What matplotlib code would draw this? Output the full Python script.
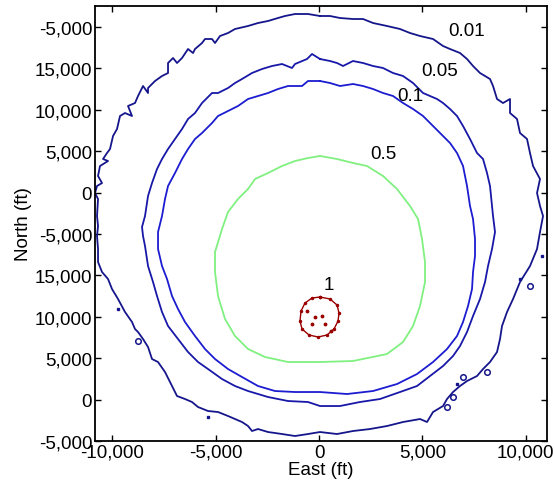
import matplotlib
matplotlib.use("Agg")
from matplotlib import pyplot as plt

plt.rcParams['font.family'] = ['Liberation Sans', 'DejaVu Sans']

# contour lines (East ft, North ft)
c001_x = [48, -532, -1162, -1646, -1984, -2468, -2952, -3436, -4066, -4404, -4792, -5034, -5179,
          -5518, -5663, -6002, -6098, -6340, -6631, -6873, -7066, -7308, -7308, -7599, -7938,
          -8276, -8276, -8518, -8760, -8906, -9244, -9051, -9390, -9632, -9777, -9970, -10116,
          -10261, -10454, -10212, -10600, -10696, -10503, -10745, -10842,
          -10696, -10745, -10696, -10745, -10696, -10696, -10503, -10212, -10019, -9728, -9390,
          -9051, -8906, -8760, -8518, -8276, -8083, -7792, -7454, -7115, -6873, -6486, -6147,
          -5856, -5372, -4888, -4404, -4066, -3727, -3436, -3243, -2952, -2468, -1791, -1162, -532,
          48, 871, 1646, 2468, 3291, 4066, 4888, 5227, 5518, 6002, 6195, 6486, 6824, 7163, 7647,
          7938, 8276, 8615, 8760, 8857, 9099, 9390, 9728, 10212, 10551, 10696, 10842, 10696,
          10551, 10696, 10358, 10212, 10067, 9728, 9583, 9244, 9244, 8906, 8615, 8422, 8276,
          7792, 7454, 7163, 6824, 6340, 6002, 5518, 4888, 4404, 3920, 3291, 2614, 2130, 1646,
          1016, 532, 48]
c001_y = [46339, 46580, 46580, 46339, 46097, 45735, 45493, 45131, 44768, 44285, 43923, 43077, 43560,
          43560, 43077, 42352, 41869, 42352, 41265, 40661, 41265, 40661, 39453, 39091, 38487,
          37641, 37037, 37883, 36675, 35829, 35467, 34259, 34621, 34259, 32688, 31843, 30272,
          29789, 29064, 28823, 28219, 27011, 26165, 25803, 24957,
          24232, 22179, 20971, 19763, 18192, 16622, 15414, 14568, 13360, 12152, 10582,
          9374, 8528, 8166, 7320, 6354, 4904, 4542, 3334, 1643, 435, 72, -290,
          -894, -1377, -1498, -1981, -2344, -2706, -3189, -3793, -3552, -3914, -4156, -4397, -4156,
          -3914, -4156, -3793, -3552, -3189, -2706, -2344, -2706, -1498, -773, 72, 918, 1643, 2247, 2851,
          3696, 4542, 5750, 7320, 8891, 10582, 12152, 14206, 16139, 18192, 20246, 22179, 23387,
          24957, 26648, 28219, 29789, 31480, 32205, 33896, 34621, 36312, 35829, 36312, 37883, 38728,
          39453, 40299, 41144, 41869, 42352, 42715, 43560, 43923, 44285, 44768, 45131, 45493, 45976, 45976,
          46097, 46339, 46339]

c005_x = [48, -339, -581, -1162, -1307, -1791, -2275, -2759, -3243, -3727, -4066, -4404, -4888,
          -5179, -5663, -6002, -6340, -6631, -6970, -7308, -7599, -7841, -8083, -8276,
          -8422, -8567, -8518, -8422, -8276, -8034, -7841, -7599, -7308, -6824, -6340, -5856,
          -5372, -4695, -4066, -3436, -2468, -1500, -532, 48,
          1016, 1984, 2952, 3920, 4743, 5372, 6002, 6486, 6824, 7163, 7454, 7792, 8034, 8180,
          8373, 8518, 8422, 8373, 8276, 8131, 7938, 7647, 7308, 6970, 6679, 6340, 6002, 5711,
          5372, 5034, 4550, 4066, 3582, 3098, 2614, 2130, 1646, 1162, 871, 532, 48]
c005_y = [41144, 41748, 41144, 40540, 40057, 40540, 40299, 39936, 39453, 38728, 38245, 37641, 37037,
          37037, 35829, 34621, 33896, 32688, 31480, 30272, 29064, 27856, 26165, 24595,
          22179, 20850, 19763, 18555, 16139, 14206, 12515, 10582, 8891, 7320, 5750, 4542,
          3696, 2488, 1643, 1039, 314, -169, -290, -773,
          -773, -290, 72, 918, 1643, 2851, 4059, 5267, 6475, 8166, 10099, 12152, 14206, 16139,
          18192, 20246, 22179, 23387, 25803, 27373, 29064, 29789, 31480, 33051, 34259, 35104, 35829, 36312,
          36675, 37037, 38245, 39091, 39453, 40057, 40299, 40661, 40903, 40299, 40661, 40903, 41144]

c01_x = [48, -532, -823, -1500, -1984, -2468, -2952, -3436, -3920, -4404, -4888, -5179, -5663,
         -6002, -6340, -6631, -6970, -7308, -7454, -7599, -7792, -7792, -7599, -7357, -7115,
         -6824, -6486, -6002, -5518, -5034, -4404, -3727, -2952, -2130, -1162, 48, 1355, 2614,
         3775, 4743, 5518, 6195, 6679, 6970, 7212, 7405, 7454, 7550, 7550, 7454, 7308, 7163,
         6970, 6679, 6340, 6002, 5518, 5034, 4550, 4066, 3582, 3098, 2614, 2130, 1646, 1016,
         532, 48]
c01_y = [38487, 38487, 37883, 37883, 37520, 37037, 36675, 36312, 35467, 34863, 34259, 33413, 32205,
         31480, 30272, 29064, 27373, 25803, 24232, 22179, 20246, 18192, 16139, 14568, 12515,
         10944, 9374, 7683, 6112, 4904, 3696, 2730, 1643, 1039, 918, 918, 676, 1039,
         1884, 3092, 4542, 6112, 7683, 9374, 11307, 13360, 15414, 17347, 19400, 21816, 23387, 25803,
         28219, 29789, 30997, 31843, 33051, 34259, 35104, 35829, 36675, 37037, 37520, 37883, 38124, 37883,
         38245, 38487]

c05_x = [48, -532, -1162, -1791, -2468, -3098, -3436, -3920, -4404, -4695, -5034, -5034, -4888,
         -4550, -4066, -3436, -2614, -1500, 48, 1646, 3291, 4066, 4550, 4888, 5130, 5130, 4985,
         4792, 4404, 3775, 3098, 2323, 1646, 871, 48]
c05_y = [29427, 29185, 28823, 28219, 27373, 26648, 25440, 24232, 22662, 20608, 17830, 15414, 12515,
         9736, 7683, 6112, 5146, 4542, 4542, 4663, 5508, 6958, 8891, 11307, 14206, 16622, 19400,
         21816, 23387, 25440, 27011, 28219, 28581, 29064, 29427]

c1_x = [48, 532, 871, 968, 920, 726, 387, -48, -484, -823, -920, -871, -678, -339, 48]
c1_y = [12395, 12154, 11429, 10462, 9496, 8530, 7805, 7563, 7805, 8530, 9496, 10704, 11670, 12274, 12395]
c1_dots_x = [-194, 145, 290, -339, -600, 600]
c1_dots_y = [9979, 10100, 9134, 9134, 10700, 8300]

# small islands and specks of the 0.01 line
isl_x = [10212, 6970, 8131, 6486, 6195, -8760]
isl_y = [13723, 2730, 3334, 314, -894, 7079]
spec_x = [9728, 10793, 6679, -9728, -5372]
spec_y = [14568, 17347, 1884, 10944, -2102]

levels = ['0.01', '0.05', '0.1', '0.5', '1']
label_x = [7163, 5856, 4404, 3098, 484]
label_y = [44530, 39696, 36676, 29790, 13965]

yticks = [-5000, 0, 5000, 10000, 15000, 20000, 25000, 30000, 35000, 40000, 45000]
ytick_labels = ['-5,000', '0', '5,000', '10,000', '15,000', '-5,000', '0', '5,000',
                '10,000', '15,000', '-5,000']
xticks = [-10000, -5000, 0, 5000, 10000]
xtick_labels = ['-10,000', '-5,000', '0', '5,000', '10,000']

fig = plt.figure(figsize=(5.54, 4.89), dpi=100)
ax = fig.add_axes([0.1715, 0.0961, 0.8159, 0.8896])

ax.plot(c001_x, c001_y, color='#16168c', lw=1.3)
ax.plot(c005_x, c005_y, color='#1818a8', lw=1.3)
ax.plot(c01_x, c01_y, color='#1c1cd0', lw=1.3)
ax.plot(c05_x, c05_y, color='#80f080', lw=1.3)
ax.plot(c1_x, c1_y, color='#990000', lw=1.0, marker='.', ms=3)
ax.plot(c1_dots_x, c1_dots_y, ls='none', color='#990000', marker='.', ms=3.5)
ax.plot(isl_x, isl_y, ls='none', marker='o', ms=4, mfc='none', mec='#16168c', mew=1.1)
ax.plot(spec_x, spec_y, ls='none', marker='s', ms=1.5, color='#16168c')

for i in range(len(levels)):
    ax.text(label_x[i], label_y[i], levels[i], fontsize=13.5, ha='center', va='center')

ax.set_xlim(-10842, 11035)
ax.set_ylim(-5000, 47548)
ax.set_xticks(xticks)
ax.set_xticklabels(xtick_labels)
ax.set_yticks(yticks)
ax.set_yticklabels(ytick_labels)
ax.tick_params(direction='in', top=True, right=True, length=4, width=1, labelsize=13.5, pad=2)
for s in ax.spines.values():
    s.set_linewidth(1.3)
ax.set_xlabel('East (ft)', fontsize=13.5, labelpad=0)
ax.set_ylabel('North (ft)', fontsize=13.5, labelpad=2)

fig.savefig('out.png', dpi=100)
